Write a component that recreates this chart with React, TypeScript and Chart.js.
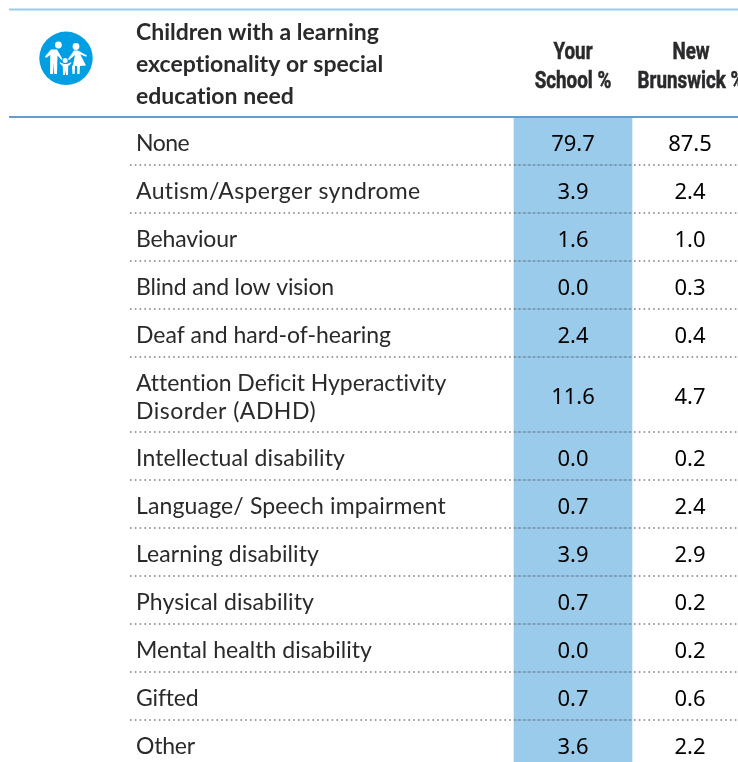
import React, { useEffect, useRef } from "react";
import { Chart, registerables } from "chart.js";

Chart.register(...registerables);

const categories: string[][] = [
  ["None"],
  ["Autism/Asperger syndrome"],
  ["Behaviour"],
  ["Blind and low vision"],
  ["Deaf and hard-of-hearing"],
  ["Attention Deficit Hyperactivity", "Disorder (ADHD)"],
  ["Intellectual disability"],
  ["Language/ Speech impairment"],
  ["Learning disability"],
  ["Physical disability"],
  ["Mental health disability"],
  ["Gifted"],
  ["Other"],
];
const yourSchool = [79.7, 3.9, 1.6, 0.0, 2.4, 11.6, 0.0, 0.7, 3.9, 0.7, 0.0, 0.7, 3.6];
const newBrunswick = [87.5, 2.4, 1.0, 0.3, 0.4, 4.7, 0.2, 2.4, 2.9, 0.2, 0.2, 0.6, 2.2];
const titleLines = ["Children with a learning", "exceptionality or special", "education need"];
const schoolHead = ["Your", "School %"];
const provinceHead = ["New", "Brunswick %"];

// Layout only: right edge of each row label line, to fit the reference's wider-set face.
const labelRightEdges: number[][] = [
  [189], [421], [237], [334], [391], [446, 316], [345], [446], [319], [314], [372], [198], [195],
];

const W = 738;
const H = 762;
const HEAD_BOTTOM = 117;
const LEFT = 136;
const rowHeight = (c: string[]) => (c.length > 1 ? 75 : 48);
const rowTops: number[] = [];
categories.reduce((t, c, i) => {
  rowTops[i] = t;
  return t + rowHeight(c);
}, HEAD_BOTTOM);
const cells = (vals: number[], x: number) =>
  vals.map((v, i) => ({ x, y: [rowTops[i], Math.min(H, rowTops[i] + rowHeight(categories[i]))], v }));

const LABEL = '"Lato", sans-serif';
const NARROW = '"Roboto", sans-serif';
const VALUE = '"Noto Sans", sans-serif';

function drawIcon(ctx: CanvasRenderingContext2D, x: (v: number) => number, y: (v: number) => number) {
  const path = (pts: number[][]) => {
    ctx.beginPath();
    pts.forEach((p, i) => (i ? ctx.lineTo(x(p[0]), y(p[1])) : ctx.moveTo(x(p[0]), y(p[1]))));
    ctx.closePath();
    ctx.fill();
  };
  const dot = (cx: number, cy: number, r: number) => {
    ctx.beginPath();
    ctx.arc(x(cx), y(cy), r, 0, Math.PI * 2);
    ctx.fill();
  };
  ctx.fillStyle = "#009fe3";
  dot(66, 58.3, 26.7);
  ctx.fillStyle = "#ffffff";
  dot(58.4, 45, 3.4);
  dot(76, 46.5, 3.4);
  dot(65.2, 60.6, 2.5);
  path([[51, 49.5], [57, 49.5], [62.5, 59], [61.5, 60], [57.5, 55.5], [57, 74], [54.2, 74], [53.8, 63], [53, 74], [50, 74], [50.3, 55], [46, 58], [45, 56.6]]);
  path([[74, 50.5], [78, 50.5], [87, 55.5], [86.3, 56.8], [80.3, 54.5], [86, 65.5], [80, 66], [79.5, 74], [77.3, 74], [77, 66], [75, 66], [74.7, 74], [72.5, 74], [72, 66], [73, 65], [75, 55], [69, 60], [68, 59]]);
  path([[59.5, 63], [60, 62.3], [64, 64], [67, 64], [71, 62.3], [71.3, 63.2], [68.2, 66.2], [68, 75], [66, 75], [65.5, 70], [65, 75], [63, 75], [62.8, 66.2]]);
}

const tablePlugin = {
  id: "tableText",
  afterDatasetsDraw(chart: any) {
    const ctx: CanvasRenderingContext2D = chart.ctx;
    const xs = chart.scales.x;
    const ys = chart.scales.y;
    const x = (v: number) => xs.getPixelForValue(v);
    const y = (v: number) => ys.getPixelForValue(v);
    ctx.save();

    // rules
    ctx.strokeStyle = "#9ccbea";
    ctx.lineWidth = 2;
    ctx.beginPath();
    ctx.moveTo(x(9), y(9.5));
    ctx.lineTo(x(W), y(9.5));
    ctx.stroke();
    ctx.strokeStyle = "#5f9fd6";
    ctx.lineWidth = 2;
    ctx.beginPath();
    ctx.moveTo(x(9), y(117));
    ctx.lineTo(x(W), y(117));
    ctx.stroke();
    rowTops.slice(1).forEach((t) => {
      ctx.strokeStyle = "#77b2dc";
      ctx.lineWidth = 1;
      ctx.setLineDash([]);
      ctx.beginPath();
      ctx.moveTo(x(514), y(t));
      ctx.lineTo(x(632), y(t));
      ctx.stroke();
      ctx.strokeStyle = "#7f7f7f";
      ctx.lineWidth = 1.6;
      ctx.setLineDash([1.6, 3.2]);
      ctx.beginPath();
      ctx.moveTo(x(130), y(t));
      ctx.lineTo(x(W), y(t));
      ctx.stroke();
    });
    ctx.setLineDash([]);

    drawIcon(ctx, x, y);

    // header
    ctx.textBaseline = "alphabetic";
    ctx.textAlign = "left";
    ctx.fillStyle = "#2a2a2c";
    ctx.font = `bold 23px ${LABEL}`;
    (ctx as any).letterSpacing = "0.01px";
    titleLines.forEach((l, i) => ctx.fillText(l, x(LEFT), y(40 + i * 32)));
    (ctx as any).letterSpacing = "0px";
    ctx.textAlign = "center";
    ctx.font = `bold 23.5px ${NARROW}`;
    ctx.strokeStyle = "#2a2a2c";
    ctx.lineWidth = 0.5;
    const narrowText = (l: string, cx: number, base: number) => {
      ctx.save();
      ctx.translate(x(cx), y(base));
      ctx.scale(0.8, 1);
      ctx.fillText(l, 0, 0);
      ctx.strokeText(l, 0, 0);
      ctx.restore();
    };
    schoolHead.forEach((l, i) => narrowText(l, 573, 59 + i * 29));
    provinceHead.forEach((l, i) => narrowText(l, 691, 59 + i * 29));

    // row labels
    ctx.textAlign = "left";
    ctx.font = `23px ${LABEL}`;
    categories.forEach((c, i) => {
      const mid = rowTops[i] + rowHeight(c) / 2;
      c.forEach((l, j) => {
        const base = c.length > 1 ? mid + 10.5 + (j - 0.5) * 28 : mid + 10;
        (ctx as any).letterSpacing = "0px";
        const w = ctx.measureText(l).width;
        (ctx as any).letterSpacing = `${(labelRightEdges[i][j] - LEFT - w) / l.length}px`;
        ctx.fillText(l, x(LEFT), y(base));
      });
    });
    (ctx as any).letterSpacing = "0px";

    // values
    ctx.textAlign = "center";
    ctx.font = `22px ${VALUE}`;
    ctx.fillStyle = "#000000";
    chart.data.datasets.forEach((ds: any, d: number) => {
      const meta = chart.getDatasetMeta(d);
      ds.data.forEach((pt: any, i: number) => {
        const c = categories[i];
        const off = c.length > 1 ? 9 : 10;
        ctx.fillText(pt.v.toFixed(1), meta.data[i].x, y(rowTops[i] + rowHeight(c) / 2 + off));
      });
    });
    ctx.restore();
  },
};

export default function App() {
  const ref = useRef<HTMLCanvasElement>(null);
  useEffect(() => {
    document.body.style.margin = "0";
    document.body.style.background = "#ffffff";
    const chart = new Chart(ref.current!, {
      type: "bar",
      data: {
        datasets: [
          {
            label: "Your School %",
            data: cells(yourSchool, 573) as any,
            backgroundColor: "#9bcbeb",
            barThickness: 118,
            grouped: false,
            borderWidth: 0,
          },
          {
            label: "New Brunswick %",
            data: cells(newBrunswick, 690) as any,
            backgroundColor: "rgba(0,0,0,0)",
            barThickness: 116,
            grouped: false,
            borderWidth: 0,
          },
        ],
      },
      options: {
        animation: false,
        responsive: false,
        devicePixelRatio: 1,
        layout: { padding: 0 },
        plugins: { legend: { display: false }, tooltip: { enabled: false }, title: { display: false } },
        scales: {
          x: { type: "linear", min: 0, max: W, display: false, offset: false },
          y: { type: "linear", min: 0, max: H, reverse: true, display: false, beginAtZero: false },
        },
      },
      plugins: [tablePlugin],
    });
    return () => chart.destroy();
  }, []);
  return <canvas ref={ref} width={W} height={H} style={{ display: "block" }} />;
}
